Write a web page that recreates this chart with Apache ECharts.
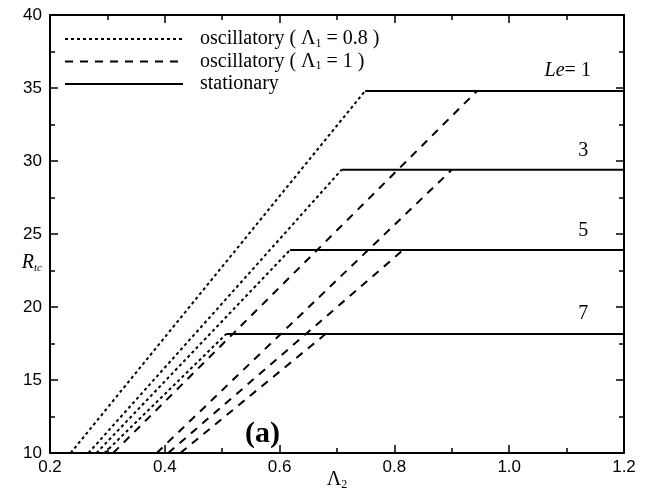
<!DOCTYPE html>
<html>
<head>
<meta charset="utf-8">
<script src="https://cdn.jsdelivr.net/npm/echarts@6/dist/echarts.min.js"></script>
<style>
  html, body { margin: 0; padding: 0; background: #fff; }
  #chart { width: 651px; height: 494px; }
</style>
</head>
<body>
<div id="chart"></div>
<script>
// Lewis numbers and the stationary threshold for each
var leValues = [1, 3, 5, 7]
var stationaryR = [34.8, 29.4, 23.9, 18.15]
// oscillatory, Lambda1 = 0.8 : Lambda2 where R=10, Lambda2 where it meets the plateau
var osc08Start = [0.236, 0.267, 0.281, 0.295]
var osc08Corner = [0.749, 0.708, 0.618, 0.507]
// oscillatory, Lambda1 = 1
var osc1Start = [0.31, 0.386, 0.406, 0.427]
var osc1Corner = [0.944, 0.9, 0.815, 0.68]
var rMin = 10
var xEnd = 1.2
// where the Le labels sit
var labelX = [1.102, 1.129, 1.129, 1.129]
var labelR = [36.2, 30.7, 25.2, 19.55]

var serif = 'Liberation Serif'
var sans = 'Liberation Sans'

var series = []
for (var i = 0; i < leValues.length; i++) {
  series.push({
    name: 'osc08',
    type: 'line',
    symbol: 'none',
    z: 2,
    itemStyle: { color: '#000' },
    lineStyle: { color: '#000', width: 2, type: [3, 3] },
    data: [[osc08Start[i], rMin], [osc08Corner[i], stationaryR[i]]]
  })
  series.push({
    name: 'osc1',
    type: 'line',
    symbol: 'none',
    z: 2,
    itemStyle: { color: '#000' },
    lineStyle: { color: '#000', width: 2, type: [8, 7] },
    data: [[osc1Start[i], rMin], [osc1Corner[i], stationaryR[i]]]
  })
  series.push({
    name: 'stationary',
    type: 'line',
    symbol: 'none',
    z: 3,
    itemStyle: { color: '#000' },
    lineStyle: { color: '#000', width: 2 },
    data: [[osc08Corner[i], stationaryR[i]], [xEnd, stationaryR[i]]]
  })
}
// Le labels
series.push({
  type: 'scatter',
  symbolSize: 0,
  z: 4,
  silent: true,
  itemStyle: { color: '#000', opacity: 1 },
  data: leValues.map(function (le, i) { return { value: [labelX[i], labelR[i]], le: le } }),
  label: {
    show: true,
    position: 'inside',
    fontFamily: serif,
    fontSize: 20,
    color: '#000',
    opacity: 1,
    formatter: function (p) {
      return p.dataIndex === 0 ? '{it|Le}= 1' : String(p.data.le)
    },
    rich: { it: { fontStyle: 'italic', fontFamily: serif, fontSize: 20, color: '#000' } }
  }
})

var axisLine = { show: true, lineStyle: { color: '#000', width: 2 } }
var axisTick = { show: true, inside: true, length: 8, lineStyle: { color: '#000', width: 1.5 } }
var minorTick = { show: true, splitNumber: 2, length: 5, lineStyle: { color: '#000', width: 1.5 } }

var chart = echarts.init(document.getElementById('chart'))
chart.setOption({
  animation: false,
  backgroundColor: '#fff',
  grid: { left: 50, right: 27, top: 15, bottom: 41, outerBoundsMode: 'none' },
  legend: {
    data: ['osc08', 'osc1', 'stationary'],
    orient: 'vertical',
    left: 59,
    top: 24,
    itemWidth: 118,
    itemHeight: 14,
    itemGap: 2,
    selectedMode: false,
    itemStyle: { opacity: 0 },
    textStyle: {
      fontFamily: serif,
      fontSize: 20,
      color: '#000',
      padding: [0, 0, 0, 12],
      rich: {
        sub: { fontFamily: serif, fontSize: 12, verticalAlign: 'bottom', padding: [9, 0, 0, 0] }
      }
    },
    formatter: function (name) {
      if (name === 'osc08') return 'oscillatory ( \u039b{sub|1} = 0.8 )'
      if (name === 'osc1') return 'oscillatory ( \u039b{sub|1} = 1 )'
      return 'stationary'
    }
  },
  xAxis: [{
    type: 'value',
    min: 0.2,
    max: 1.2,
    interval: 0.2,
    axisLine: axisLine,
    axisTick: axisTick,
    minorTick: minorTick,
    splitLine: { show: false },
    axisLabel: {
      fontFamily: sans, fontSize: 17, color: '#000', margin: 6,
      formatter: function (v) { return v.toFixed(1) }
    },
    name: '\u039b{sub|2}',
    nameLocation: 'middle',
    nameGap: 16,
    nameMoveOverlap: false,
    nameTextStyle: {
      fontFamily: serif, fontSize: 20, color: '#000',
      rich: { sub: { fontFamily: serif, fontSize: 12, verticalAlign: 'bottom', padding: [10, 0, 0, 0] } }
    }
  }, {
    type: 'value',
    position: 'top',
    min: 0.2,
    max: 1.2,
    interval: 0.2,
    axisLine: axisLine,
    axisTick: axisTick,
    minorTick: minorTick,
    splitLine: { show: false },
    axisLabel: { show: false }
  }],
  yAxis: [{
    type: 'value',
    min: 10,
    max: 40,
    interval: 5,
    axisLine: axisLine,
    axisTick: axisTick,
    minorTick: minorTick,
    splitLine: { show: false },
    axisLabel: { fontFamily: sans, fontSize: 17, color: '#000', margin: 8 },
    name: '{it|R}{sub|tc}',
    nameLocation: 'middle',
    nameGap: 8,
    nameRotate: 0,
    nameMoveOverlap: false,
    nameTextStyle: {
      fontFamily: serif, fontSize: 20, color: '#000',
      padding: [58, 0, 0, 0],
      rich: {
        it: { fontStyle: 'italic', fontFamily: serif, fontSize: 20 },
        sub: { fontStyle: 'italic', fontFamily: serif, fontSize: 11, verticalAlign: 'bottom', padding: [10, 0, 0, 0] }
      }
    }
  }, {
    type: 'value',
    position: 'right',
    min: 10,
    max: 40,
    interval: 5,
    axisLine: axisLine,
    axisTick: axisTick,
    minorTick: minorTick,
    splitLine: { show: false },
    axisLabel: { show: false }
  }],
  graphic: [{
    type: 'text',
    left: 245,
    top: 419,
    style: { text: '(a)', font: 'bold 30px "Liberation Serif"', fill: '#000' }
  }],
  series: series
})
</script>
</body>
</html>
